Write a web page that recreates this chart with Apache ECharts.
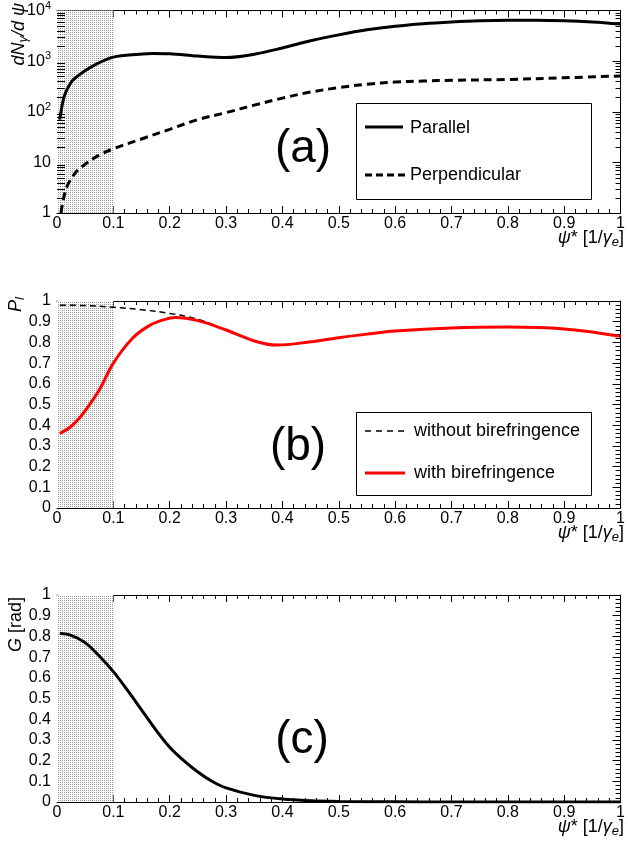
<!DOCTYPE html>
<html>
<head>
<meta charset="utf-8">
<script src="https://cdn.jsdelivr.net/npm/echarts/dist/echarts.min.js"></script>
<style>html,body{margin:0;padding:0;background:#fff}#main{width:628px;height:846px}</style>
</head>
<body>
<div id="main"></div>
<script>
// panel (a) dN/dpsi, log scale
var psiPar = [0.005, 0.011, 0.017, 0.026, 0.035, 0.049, 0.07, 0.1, 0.146, 0.17, 0.2, 0.25, 0.3, 0.35, 0.4, 0.45, 0.5, 0.55, 0.6, 0.65, 0.7, 0.75, 0.8, 0.85, 0.9, 0.95, 1.0];
var parallel = [70, 170, 265, 395, 490, 640, 875, 1200, 1370, 1420, 1400, 1260, 1180, 1370, 1820, 2520, 3300, 4150, 4900, 5500, 5950, 6300, 6450, 6450, 6300, 5950, 5400];
var psiPerp = [0.007, 0.011, 0.017, 0.026, 0.035, 0.05, 0.07, 0.1, 0.15, 0.2, 0.25, 0.3, 0.35, 0.4, 0.45, 0.5, 0.55, 0.6, 0.65, 0.7, 0.8, 0.9, 1.0];
var perpendicular = [1, 1.8, 3.2, 4.9, 6.7, 9.2, 13, 18.6, 29, 45, 70, 96, 135, 186, 245, 300, 350, 385, 405, 418, 435, 470, 510];

// panel (b) P_l
var psiNoBi = [0.005, 0.05, 0.1, 0.15, 0.2, 0.25, 0.3, 0.35, 0.39, 0.45, 0.5, 0.55, 0.6, 0.7, 0.8, 0.9, 1.0];
var withoutBi = [0.98, 0.978, 0.97, 0.958, 0.94, 0.912, 0.86, 0.807, 0.787, 0.803, 0.823, 0.84, 0.855, 0.87, 0.874, 0.865, 0.83];
var psiBi = [0.005, 0.023, 0.04, 0.05, 0.075, 0.1, 0.134, 0.163, 0.19, 0.21, 0.25, 0.3, 0.35, 0.39, 0.45, 0.5, 0.55, 0.6, 0.7, 0.8, 0.9, 1.0];
var withBi = [0.36, 0.39, 0.435, 0.47, 0.57, 0.70, 0.82, 0.88, 0.91, 0.92, 0.905, 0.86, 0.807, 0.787, 0.803, 0.823, 0.84, 0.855, 0.87, 0.874, 0.865, 0.83];

// panel (c) G [rad]
var psiG = [0.005, 0.025, 0.05, 0.075, 0.1, 0.125, 0.15, 0.175, 0.2, 0.225, 0.25, 0.275, 0.3, 0.35, 0.4, 0.45, 0.5, 0.6, 0.7, 0.8, 0.9, 1.0];
var gRad = [0.815, 0.805, 0.77, 0.705, 0.63, 0.54, 0.445, 0.35, 0.265, 0.2, 0.145, 0.1, 0.068, 0.032, 0.014, 0.006, 0.003, 0.001, 0, 0, 0, 0];

var FONT = '"Liberation Sans", Arial, Helvetica, sans-serif';

function pairs(xs, ys) {
  var out = [];
  for (var i = 0; i < xs.length; i++) out.push([xs[i], ys[i]]);
  return out;
}

// dotted fill for the 0..0.1 band
var pc = document.createElement('canvas');
pc.width = 2; pc.height = 2;
var ctx = pc.getContext('2d');
ctx.fillStyle = '#ffffff'; ctx.fillRect(0, 0, 2, 2);
ctx.fillStyle = '#9a9a9a';
ctx.fillRect(0, 0, 1, 1);
var band = {
  silent: true,
  itemStyle: { color: { image: pc, repeat: 'repeat' } },
  data: [[{ xAxis: 0 }, { xAxis: 0.1 }]]
};

var grids = [
  { left: 57, top: 5, width: 567, height: 208 },
  { left: 57, top: 301, width: 567, height: 207 },
  { left: 57, top: 595, width: 567, height: 207 }
];

function xAx(gi, top) {
  return {
    type: 'value', gridIndex: gi, position: top ? 'top' : 'bottom',
    min: 0, max: 1, interval: 0.1,
    axisLine: { onZero: false, lineStyle: { color: '#000', width: 1 } },
    axisTick: { inside: true, length: 7, lineStyle: { color: '#000' } },
    minorTick: { show: true, splitNumber: 5, length: 4, lineStyle: { color: '#000' } },
    splitLine: { show: false },
    axisLabel: {
      show: !top, margin: 3, color: '#000', fontFamily: FONT, fontSize: 16,
      formatter: function (v) { return v === 0 ? '0' : (v === 1 ? '1' : v.toFixed(1)); }
    }
  };
}

function yLin(gi, right) {
  return {
    type: 'value', gridIndex: gi, position: right ? 'right' : 'left',
    min: 0, max: 1, interval: 0.1,
    axisLine: { show: true, onZero: false, lineStyle: { color: '#000', width: 1 } },
    axisTick: { inside: true, length: right ? 8 : 15, lineStyle: { color: '#000' } },
    minorTick: { show: true, splitNumber: 5, length: right ? 5 : 8, lineStyle: { color: '#000' } },
    splitLine: { show: false },
    axisLabel: {
      show: !right, margin: 6, color: '#000', fontFamily: FONT, fontSize: 16,
      formatter: function (v) { return v === 0 ? '0' : (v === 1 ? '1' : v.toFixed(1)); }
    }
  };
}

function yLog(right) {
  return {
    type: 'log', logBase: 10, gridIndex: 0, position: right ? 'right' : 'left',
    min: 1, max: 10000,
    axisLine: { show: true, onZero: false, lineStyle: { color: '#000', width: 1 } },
    axisTick: { inside: true, length: right ? 8 : 15, lineStyle: { color: '#000' } },
    splitLine: { show: false },
    axisLabel: {
      show: !right, margin: 6, color: '#000', fontFamily: FONT, fontSize: 16,
      formatter: function (v) {
        if (v < 5) return '1';
        if (v < 50) return '10';
        return '10{sup|' + Math.round(Math.log10(v)) + '}';
      },
      rich: { sup: { fontSize: 11, fontFamily: FONT, color: '#000', padding: [0, 0, 10, 0] } }
    }
  };
}

// log minor ticks (2..9 in every decade)
var logMinor = [];
[1, 10, 100, 1000].forEach(function (d) {
  for (var k = 2; k <= 9; k++) logMinor.push([0, d * k]);
});

function curve(name, xi, xs, ys, color, width, dash, z, area) {
  var s = {
    name: name, type: 'line', xAxisIndex: xi, yAxisIndex: xi,
    data: pairs(xs, ys), showSymbol: false, smooth: 0.35,
    lineStyle: { color: color, width: width, type: dash || 'solid', cap: 'butt' }, z: z
  };
  if (area) s.markArea = band;
  return s;
}

var option = {
  animation: false,
  backgroundColor: '#fff',
  grid: grids,
  xAxis: [xAx(0, false), xAx(0, true), xAx(1, false), xAx(1, true), xAx(2, false), xAx(2, true)],
  yAxis: [yLog(false), yLog(true), yLin(1, false), yLin(1, true), yLin(2, false), yLin(2, true)],
  series: [
    {
      type: 'custom', xAxisIndex: 0, yAxisIndex: 0, silent: true, z: 5,
      data: logMinor,
      renderItem: function (params, api) {
        var p = api.coord([0, api.value(1)]);
        var cs = params.coordSys;
        var y = Math.round(p[1]) + 0.5;
        return {
          type: 'group',
          children: [
            { type: 'line', shape: { x1: cs.x, y1: y, x2: cs.x + 8, y2: y }, style: { stroke: '#000', lineWidth: 1 } },
            { type: 'line', shape: { x1: cs.x + cs.width - 5, y1: y, x2: cs.x + cs.width, y2: y }, style: { stroke: '#000', lineWidth: 1 } }
          ]
        };
      }
    },
    curve('Parallel', 0, psiPar, parallel, '#000', 3, null, 3, true),
    curve('Perpendicular', 0, psiPerp, perpendicular, '#000', 3, [8, 5], 3, false),
    curve('without birefringence', 2, psiNoBi, withoutBi, '#000', 1.5, [6, 4], 3, true),
    curve('with birefringence', 2, psiBi, withBi, '#ff0000', 3, null, 4, false),
    curve('G', 4, psiG, gRad, '#000', 3, null, 3, true)
  ],
  graphic: [
    // axis titles
    { type: 'text', x: 19, y: 3, rotation: Math.PI / 2, style: {
      text: '{i|dN}{s|γ}{i|/d ψ}', align: 'right', verticalAlign: 'middle',
      rich: { i: { fontFamily: FONT, fontSize: 18, fontStyle: 'italic', fill: '#000' },
              s: { fontFamily: FONT, fontSize: 13, fontStyle: 'italic', fill: '#000', padding: [8, 0, 0, 0] } } } },
    { type: 'text', x: 16, y: 297, rotation: Math.PI / 2, style: {
      text: '{i|P}{s|l}', align: 'right', verticalAlign: 'middle',
      rich: { i: { fontFamily: FONT, fontSize: 18, fontStyle: 'italic', fill: '#000' },
              s: { fontFamily: FONT, fontSize: 13, fontStyle: 'italic', fill: '#000', padding: [8, 0, 0, 0] } } } },
    { type: 'text', x: 16, y: 597, rotation: Math.PI / 2, style: {
      text: '{i|G} [rad]', align: 'right', verticalAlign: 'middle',
      font: '18px ' + FONT, fill: '#000',
      rich: { i: { fontFamily: FONT, fontSize: 18, fontStyle: 'italic', fill: '#000' } } } },
    { type: 'text', x: 624, y: 238, style: xTitle() },
    { type: 'text', x: 624, y: 533, style: xTitle() },
    { type: 'text', x: 624, y: 827, style: xTitle() },
    // panel labels
    { type: 'text', x: 303, y: 149, style: { text: '(a)', font: '46px ' + FONT, fill: '#000', align: 'center', verticalAlign: 'middle' } },
    { type: 'text', x: 298, y: 447, style: { text: '(b)', font: '46px ' + FONT, fill: '#000', align: 'center', verticalAlign: 'middle' } },
    { type: 'text', x: 302, y: 740, style: { text: '(c)', font: '46px ' + FONT, fill: '#000', align: 'center', verticalAlign: 'middle' } },
    // legend (a)
    { type: 'rect', z: 10, shape: { x: 356.5, y: 103.5, width: 235, height: 96 }, style: { fill: '#fff', stroke: '#000', lineWidth: 1 } },
    { type: 'line', z: 11, shape: { x1: 365, y1: 127, x2: 403, y2: 127 }, style: { stroke: '#000', lineWidth: 3 } },
    { type: 'text', z: 11, x: 410, y: 128, style: { text: 'Parallel', font: '18px ' + FONT, fill: '#000', verticalAlign: 'middle' } },
    { type: 'line', z: 11, shape: { x1: 365, y1: 175, x2: 405, y2: 175 }, style: { stroke: '#000', lineWidth: 3, lineDash: [7, 4] } },
    { type: 'text', z: 11, x: 410, y: 175, style: { text: 'Perpendicular', font: '18px ' + FONT, fill: '#000', verticalAlign: 'middle' } },
    // legend (b)
    { type: 'rect', z: 10, shape: { x: 356.5, y: 412.5, width: 235, height: 83 }, style: { fill: '#fff', stroke: '#000', lineWidth: 1 } },
    { type: 'line', z: 11, shape: { x1: 365, y1: 431, x2: 405, y2: 431 }, style: { stroke: '#000', lineWidth: 1.5, lineDash: [6, 5] } },
    { type: 'text', z: 11, x: 414, y: 431, style: { text: 'without birefringence', font: '18px ' + FONT, fill: '#000', verticalAlign: 'middle' } },
    { type: 'line', z: 11, shape: { x1: 365, y1: 473, x2: 405, y2: 473 }, style: { stroke: '#ff0000', lineWidth: 3 } },
    { type: 'text', z: 11, x: 414, y: 473, style: { text: 'with birefringence', font: '18px ' + FONT, fill: '#000', verticalAlign: 'middle' } }
  ]
};

function xTitle() {
  return {
    text: '{g|ψ}{n|* [1/}{g|γ}{s|e}{n|]}', align: 'right', verticalAlign: 'middle',
    rich: {
      g: { fontFamily: FONT, fontSize: 18, fontStyle: 'italic', fill: '#000' },
      n: { fontFamily: FONT, fontSize: 18, fill: '#000' },
      s: { fontFamily: FONT, fontSize: 13, fontStyle: 'italic', fill: '#000', padding: [8, 0, 0, 0] }
    }
  };
}

var myChart = echarts.init(document.getElementById('main'));
myChart.setOption(option);
</script>
</body>
</html>
